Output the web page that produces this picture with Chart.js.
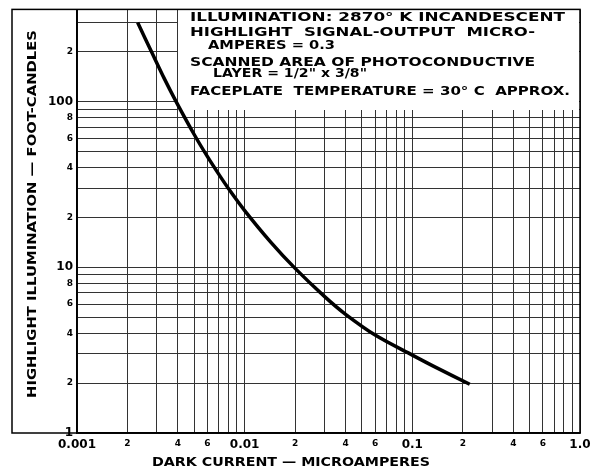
<!DOCTYPE html>
<html>
<head>
<meta charset="utf-8">
<script src="https://cdn.jsdelivr.net/npm/chart.js@4"></script>
<style>
body { margin: 0; background: #fff; }
</style>
</head>
<body>
<canvas id="myChart" width="606" height="472"></canvas>
<script>
// dark current vs. highlight illumination (log-log)

const darkCurrent = [0.0023, 0.0028, 0.0033, 0.0039, 0.005, 0.006, 0.007, 0.008, 0.01, 0.0143, 0.02, 0.03, 0.04, 0.06, 0.1, 0.14, 0.22];
const illumination = [300, 197, 139, 100, 63.3, 46.5, 36.5, 29.9, 22, 14.2, 9.85, 6.65, 5.2, 3.9, 2.95, 2.47, 1.97];

const xTickValues = [0.001, 0.002, 0.004, 0.006, 0.01, 0.02, 0.04, 0.06, 0.1, 0.2, 0.4, 0.6, 1];
const xTickLabels = ['0.001', '2', '4', '6', '0.01', '2', '4', '6', '0.1', '2', '4', '6', '1.0'];
const yTickValues = [1, 2, 4, 6, 8, 10, 20, 40, 60, 80, 100, 200];
const yTickLabels = ['1', '2', '4', '6', '8', '10', '2', '4', '6', '8', '100', '2'];

const noteLines = [
    'ILLUMINATION: 2870° K INCANDESCENT',
    'HIGHLIGHT  SIGNAL-OUTPUT  MICRO-',
    'AMPERES = 0.3',
    'SCANNED AREA OF PHOTOCONDUCTIVE',
    'LAYER = 1/2" x 3/8"',
    'FACEPLATE  TEMPERATURE = 30° C  APPROX.'
];
const xTitle = 'DARK CURRENT — MICROAMPERES';
const yTitle = 'HIGHLIGHT ILLUMINATION — FOOT-CANDLES';

// where each note line sits: left, right, middle y
const noteBoxes = [
    [190, 565, 18],
    [190, 535, 33],
    [208, 335, 46],
    [190, 535, 63],
    [213, 367, 74],
    [190, 570, 92]
];

// graph-paper rulings, 1..9 in every decade
function rulings(start, end) {
    const out = [];
    for (let d = start; d < end * 0.999; d *= 10) {
        for (let i = 1; i < 10; i++) out.push(+(i * d).toPrecision(3));
    }
    return out;
}
const xGrid = rulings(0.001, 1).concat([1]);
const yGrid = rulings(1, 100).concat([100, 200, 300]);

function labelFor(values, labels, v) {
    const i = values.findIndex(t => Math.abs(Math.log10(t) - Math.log10(v)) < 1e-6);
    return i < 0 ? '' : labels[i];
}

const bigFont = { family: 'DejaVu Sans', size: 12, weight: 'bold' };
const smallFont = { family: 'DejaVu Sans', size: 9, weight: 'bold' };
function tickFont(c) {
    const lab = c.tick ? c.tick.label : '';
    return (lab.length > 1 || lab === '1') ? bigFont : smallFont;
}

function fitText(ctx, text, x, y, w, rot) {
    const m = ctx.measureText(text).width;
    ctx.save();
    ctx.translate(x, y);
    if (rot) ctx.rotate(rot);
    ctx.scale(w / m, 1);
    ctx.fillText(text, 0, 0);
    ctx.restore();
}

const paperPlugin = {
    id: 'paper',
    beforeDatasetsDraw(chart) {
        const ctx = chart.ctx;
        // white label block over the top-right rulings
        ctx.save();
        ctx.fillStyle = '#fff';
        ctx.fillRect(178, 6, 401, 104);
        ctx.fillStyle = '#000';
        ctx.font = 'bold 13px "DejaVu Sans"';
        ctx.textBaseline = 'middle';
        ctx.textAlign = 'left';
        noteLines.forEach((t, i) => {
            const b = noteBoxes[i];
            fitText(ctx, t, b[0], b[2], b[1] - b[0]);
        });
        ctx.restore();
    },
    afterDraw(chart) {
        const ctx = chart.ctx;
        const a = chart.chartArea;
        ctx.save();
        ctx.strokeStyle = '#000';
        ctx.lineWidth = 1.5;
        ctx.strokeRect(12, a.top, a.right - 12, a.bottom - a.top);
        ctx.beginPath();
        ctx.moveTo(a.left, a.top);
        ctx.lineTo(a.left, a.bottom);
        ctx.stroke();

        ctx.fillStyle = '#000';
        ctx.font = 'bold 13px "DejaVu Sans"';
        ctx.textAlign = 'center';
        ctx.textBaseline = 'middle';
        fitText(ctx, xTitle, 291, 463, 278);
        fitText(ctx, yTitle, 33, 214, 368, -Math.PI / 2);
        ctx.restore();
    }
};

const ctx = document.getElementById('myChart');

var chart = new Chart(ctx, {
    type: 'scatter',
    data: {
        datasets: [{
            data: darkCurrent.map((x, i) => ({ x: x, y: illumination[i] })),
            showLine: true,
            borderColor: '#000',
            borderWidth: 3.5,
            pointRadius: 0,
            tension: 0.3
        }]
    },
    options: {
        responsive: false,
        animation: false,
        devicePixelRatio: 1,
        layout: { padding: { top: 5, right: 26, left: 0, bottom: 0 } },
        plugins: {
            legend: { display: false },
            tooltip: { enabled: false }
        },
        scales: {
            x: {
                type: 'logarithmic',
                min: 0.001,
                max: 1,
                afterBuildTicks: s => { s.ticks = xGrid.map(v => ({ value: v })); },
                afterFit: s => { s.height = 39; },
                grid: { color: '#333', lineWidth: 1, drawTicks: false },
                border: { color: '#000', width: 1.5 },
                ticks: {
                    autoSkip: false,
                    maxRotation: 0,
                    padding: 5,
                    color: '#000',
                    font: tickFont,
                    callback: v => labelFor(xTickValues, xTickLabels, v)
                }
            },
            y: {
                type: 'logarithmic',
                min: 1,
                max: 360,
                afterBuildTicks: s => { s.ticks = yGrid.map(v => ({ value: v })); },
                afterFit: s => { s.width = 77; },
                grid: { color: '#333', lineWidth: 1, drawTicks: false },
                border: { color: '#000', width: 1.5 },
                ticks: {
                    autoSkip: false,
                    padding: 4,
                    color: '#000',
                    font: tickFont,
                    callback: v => labelFor(yTickValues, yTickLabels, v)
                }
            }
        }
    },
    plugins: [paperPlugin]
});
</script>
</body>
</html>
